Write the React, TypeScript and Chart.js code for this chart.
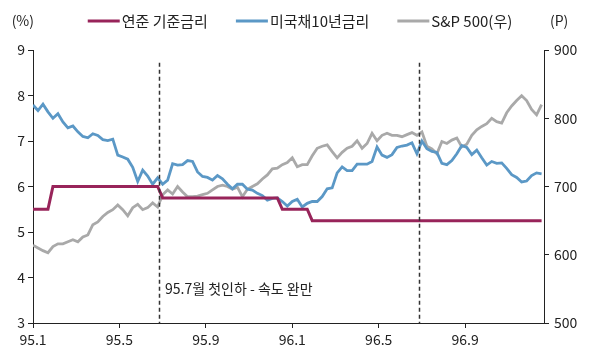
import { useEffect, useRef } from 'react';
import { Chart, registerables } from 'chart.js';

Chart.register(...registerables);

// ---- data (weekly, starting 1995.1) ----
const seriesNames = ['연준 기준금리', '미국채10년금리', 'S&P 500(우)'];

const fedFunds = [
  5.5, 5.5, 5.5, 5.5, 6.0, 6.0, 6.0, 6.0, 6.0, 6.0,
  6.0, 6.0, 6.0, 6.0, 6.0, 6.0, 6.0, 6.0, 6.0, 6.0,
  6.0, 6.0, 6.0, 6.0, 6.0, 6.0, 5.75, 5.75, 5.75, 5.75,
  5.75, 5.75, 5.75, 5.75, 5.75, 5.75, 5.75, 5.75, 5.75, 5.75,
  5.75, 5.75, 5.75, 5.75, 5.75, 5.75, 5.75, 5.75, 5.75, 5.75,
  5.5, 5.5, 5.5, 5.5, 5.5, 5.5, 5.25, 5.25, 5.25, 5.25,
  5.25, 5.25, 5.25, 5.25, 5.25, 5.25, 5.25, 5.25, 5.25, 5.25,
  5.25, 5.25, 5.25, 5.25, 5.25, 5.25, 5.25, 5.25, 5.25, 5.25,
  5.25, 5.25, 5.25, 5.25, 5.25, 5.25, 5.25, 5.25, 5.25, 5.25,
  5.25, 5.25, 5.25, 5.25, 5.25, 5.25, 5.25, 5.25, 5.25, 5.25,
  5.25, 5.25, 5.25,
];

const treasury10y = [
  7.79, 7.67, 7.81, 7.64, 7.50, 7.60, 7.42, 7.29, 7.33, 7.20,
  7.10, 7.07, 7.16, 7.12, 7.03, 7.01, 7.04, 6.69, 6.65, 6.60,
  6.42, 6.11, 6.36, 6.23, 6.05, 6.19, 6.05, 6.14, 6.50, 6.47,
  6.48, 6.57, 6.55, 6.32, 6.22, 6.20, 6.14, 6.24, 6.17, 6.05,
  5.95, 6.05, 6.05, 5.94, 5.92, 5.85, 5.80, 5.70, 5.74, 5.75,
  5.67, 5.57, 5.67, 5.72, 5.55, 5.63, 5.67, 5.67, 5.78, 5.95,
  5.97, 6.30, 6.43, 6.35, 6.35, 6.49, 6.49, 6.49, 6.55, 6.87,
  6.69, 6.64, 6.70, 6.86, 6.89, 6.91, 6.96, 6.72, 7.00, 6.83,
  6.77, 6.75, 6.51, 6.48, 6.57, 6.72, 6.90, 6.86, 6.70, 6.80,
  6.63, 6.47, 6.55, 6.51, 6.52, 6.40, 6.26, 6.20, 6.10, 6.12,
  6.24, 6.30, 6.28,
];

const sp500 = [
  614, 610, 606, 603, 612, 616, 616, 619, 622, 619,
  626, 629, 644, 648, 656, 662, 666, 673, 666, 657,
  669, 674, 666, 669, 676, 670, 688, 695, 689, 700,
  692, 685, 685, 686, 688, 690, 695, 700, 702, 700,
  696, 699, 685, 696, 700, 704, 711, 717, 726, 727,
  732, 735, 742, 729, 732, 732, 745, 756, 759, 761,
  751, 742, 750, 756, 759, 767, 756, 763, 778, 767,
  775, 778, 775, 775, 773, 776, 779, 775, 780, 759,
  755, 748, 766, 763, 768, 771, 758, 762, 775, 783,
  788, 792, 800, 795, 793, 808, 818, 826, 833, 826,
  813, 805, 820,
];

// x axis in months since 1995.1
const tickMonths = [0, 4, 8, 12, 16, 20];
const tickLabels = ['95.1', '95.5', '95.9', '96.1', '96.5', '96.9'];
const xMaxMonths = 23.65;
const cutMarkers = [5.83, 17.87];
const markerTopValue = 8.72;
const annotationText = '95.7월 첫인하 - 속도 완만';
const annotationPos = { x: 5.83, y: 3.76 };

const leftRange = { min: 3, max: 9, step: 1 };
const rightRange = { min: 500, max: 900, step: 100 };
const leftUnit = '(%)';
const rightUnit = '(P)';

const colors = ['#98245a', '#5b98c6', '#a9a9a9'];
const FONT = '"Noto Sans CJK KR", "Noto Sans", sans-serif';

const toPoints = (arr: number[]) => arr.map((v, i) => ({ x: (i * 12) / 52, y: v }));

export default function App() {
  const ref = useRef<HTMLCanvasElement | null>(null);

  useEffect(() => {
    if (!ref.current) return;
    Chart.defaults.font.family = FONT;

    const overlay = {
      id: 'overlay',
      afterDatasetsDraw(chart: any) {
        const { ctx, chartArea, scales } = chart;
        const xs = scales.x;
        const yl = scales.y;
        ctx.save();
        ctx.strokeStyle = '#333';
        ctx.lineWidth = 1.5;
        ctx.setLineDash([4, 3]);
        cutMarkers.forEach((m) => {
          const px = Math.round(xs.getPixelForValue(m)) + 0.5;
          ctx.beginPath();
          ctx.moveTo(px, yl.getPixelForValue(markerTopValue));
          ctx.lineTo(px, chartArea.bottom);
          ctx.stroke();
        });
        ctx.setLineDash([]);
        ctx.fillStyle = '#222';
        ctx.font = `14px ${FONT}`;
        ctx.textAlign = 'left';
        ctx.textBaseline = 'middle';
        ctx.fillText(annotationText, xs.getPixelForValue(annotationPos.x) + 6, yl.getPixelForValue(annotationPos.y));
        ctx.restore();
      },
      afterDraw(chart: any) {
        const { ctx, chartArea } = chart;
        ctx.save();
        ctx.textBaseline = 'middle';
        ctx.fillStyle = '#222';
        ctx.font = `14px ${FONT}`;
        const ly = 21;
        ctx.textAlign = 'right';
        ctx.fillText(leftUnit, chartArea.left + 1, ly);
        ctx.textAlign = 'left';
        ctx.fillText(rightUnit, chartArea.right + 6, ly);
        // legend
        ctx.font = `15px ${FONT}`;
        const lineLen = 32;
        const gap = 2;
        const spacing = 28;
        const widths = seriesNames.map((n) => ctx.measureText(n).width);
        const total = widths.reduce((a, w) => a + lineLen + gap + w, 0) + spacing * (seriesNames.length - 1);
        let x = chart.width / 2 - total / 2;
        seriesNames.forEach((n, i) => {
          ctx.strokeStyle = colors[i];
          ctx.lineWidth = 3;
          ctx.beginPath();
          ctx.moveTo(x, ly);
          ctx.lineTo(x + lineLen, ly);
          ctx.stroke();
          x += lineLen + gap;
          ctx.fillStyle = '#222';
          ctx.fillText(n, x, ly);
          x += widths[i] + spacing;
        });
        ctx.restore();
      },
    };

    const axisColor = '#222';
    const tickFont = { size: 14, family: FONT };

    const chart = new Chart(ref.current, {
      type: 'line',
      data: {
        datasets: [
          { label: seriesNames[0], data: toPoints(fedFunds), yAxisID: 'y', borderColor: colors[0], backgroundColor: colors[0], borderWidth: 3, pointRadius: 0, tension: 0 },
          { label: seriesNames[1], data: toPoints(treasury10y), yAxisID: 'y', borderColor: colors[1], backgroundColor: colors[1], borderWidth: 2.8, pointRadius: 0, tension: 0 },
          { label: seriesNames[2], data: toPoints(sp500), yAxisID: 'y1', borderColor: colors[2], backgroundColor: colors[2], borderWidth: 2.8, pointRadius: 0, tension: 0 },
        ],
      },
      options: {
        responsive: false,
        animation: false,
        layout: { padding: { top: 50, left: 0, right: 0, bottom: 0 } },
        plugins: { legend: { display: false }, tooltip: { enabled: false } },
        scales: {
          x: {
            type: 'linear',
            min: 0,
            max: xMaxMonths,
            afterBuildTicks: (s: any) => {
              s.ticks = tickMonths.map((v) => ({ value: v }));
            },
            afterFit: (s: any) => {
              s.height = 32;
            },
            ticks: {
              autoSkip: false,
              maxRotation: 0,
              color: '#222',
              font: tickFont,
              padding: 3,
              callback: (v: any) => {
                const idx = tickMonths.indexOf(Number(v));
                return idx >= 0 ? tickLabels[idx] : '';
              },
            },
            grid: { drawOnChartArea: false, drawTicks: true, tickLength: 5, color: axisColor },
            border: { display: true, color: axisColor, width: 1 },
          },
          y: {
            position: 'left',
            min: leftRange.min,
            max: leftRange.max,
            afterFit: (s: any) => {
              s.width = 33;
            },
            ticks: { stepSize: leftRange.step, color: '#222', font: tickFont, padding: 3 },
            grid: { drawOnChartArea: false, drawTicks: true, tickLength: 5, color: axisColor },
            border: { display: true, color: axisColor, width: 1 },
          },
          y1: {
            position: 'right',
            min: rightRange.min,
            max: rightRange.max,
            afterFit: (s: any) => {
              s.width = 56;
            },
            ticks: { stepSize: rightRange.step, color: '#222', font: tickFont, padding: 5 },
            grid: { drawOnChartArea: false, drawTicks: true, tickLength: 5, color: axisColor },
            border: { display: true, color: axisColor, width: 1 },
          },
        },
      },
      plugins: [overlay],
    });

    return () => chart.destroy();
  }, []);

  return (
    <div style={{ position: 'absolute', left: 0, top: 0, width: 600, height: 355, background: '#fff' }}>
      <canvas ref={ref} width={600} height={355} style={{ display: 'block' }} />
    </div>
  );
}
